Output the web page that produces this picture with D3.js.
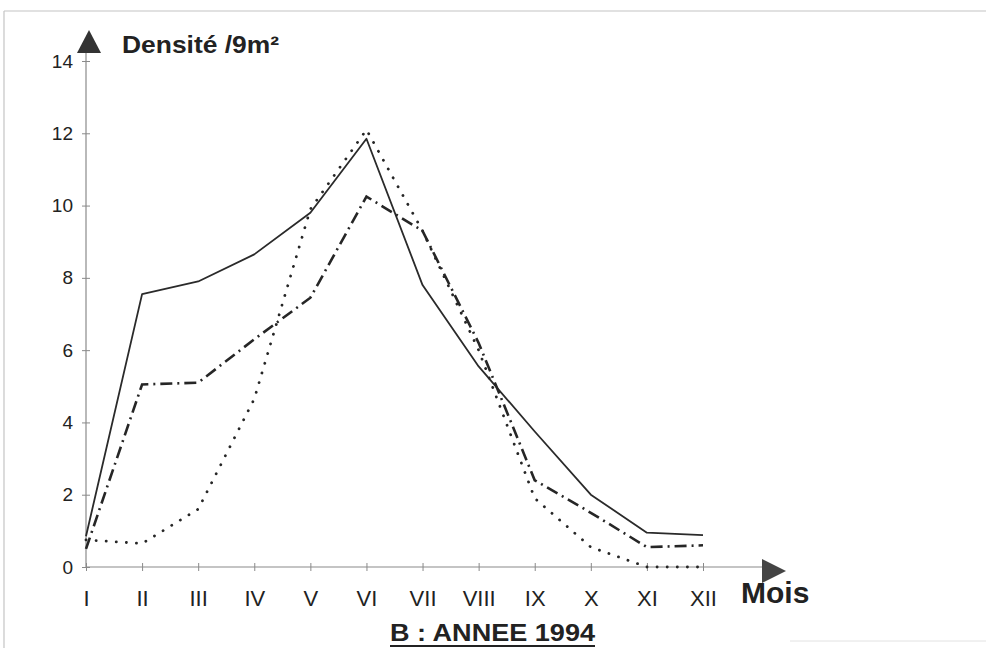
<!DOCTYPE html>
<html>
<head>
<meta charset="utf-8">
<script src="https://cdn.jsdelivr.net/npm/d3@7"></script>
<style>
  html, body { margin: 0; padding: 0; background: #fff; }
  svg { display: block; }
  text { font-family: "Liberation Sans", Arial, sans-serif; fill: #222; }
</style>
</head>
<body>
<svg id="chart" width="986" height="648"></svg>
<script>
// Months of the year (Roman numerals)
const months = ["I", "II", "III", "IV", "V", "VI", "VII", "VIII", "IX", "X", "XI", "XII"];

// Monthly density per 9 m², year 1994 — three sampled series
const serieSolid   = [0.85, 7.55, 7.9, 8.65, 9.8, 11.85, 7.8, 5.55, 3.75, 2.0, 0.95, 0.88];
const serieDashDot = [0.5, 5.05, 5.1, 6.3, 7.45, 10.25, 9.3, 6.2, 2.4, 1.5, 0.55, 0.6];
const serieDotted  = [0.75, 0.65, 1.6, 4.65, 9.9, 12.1, 9.3, 6.0, 1.9, 0.55, 0.0, 0.0];

const yTicks = [0, 2, 4, 6, 8, 10, 12, 14];

const yLabel = "Densité /9m²";
const xLabel = "Mois";
const title = "B : ANNEE 1994";

const svg = d3.select("#chart");

// Plot frame
const x = d3.scalePoint().domain(months).range([86, 703]);
const y = d3.scaleLinear().domain([0, 14]).range([567, 61]);

// Scanned page frame
svg.append("line").attr("x1", 4).attr("x2", 986).attr("y1", 11).attr("y2", 11)
  .attr("stroke", "#c4c4c4").attr("stroke-width", 1.2);
svg.append("line").attr("x1", 4).attr("x2", 4).attr("y1", 11).attr("y2", 648)
  .attr("stroke", "#c4c4c4").attr("stroke-width", 1.2);
svg.append("line").attr("x1", 790).attr("x2", 986).attr("y1", 641).attr("y2", 641)
  .attr("stroke", "#e2e2e2").attr("stroke-width", 1);

// Axis lines extended to the arrow heads
const axisColor = "#8a8a8a";
svg.append("line").attr("x1", x("I")).attr("x2", x("I"))
  .attr("y1", y(0)).attr("y2", 50)
  .attr("stroke", axisColor).attr("stroke-width", 1.2);
svg.append("line").attr("x1", x("I")).attr("x2", 764)
  .attr("y1", y(0)).attr("y2", y(0))
  .attr("stroke", axisColor).attr("stroke-width", 1.2);

// Arrow heads
svg.append("path").attr("d", "M77,53 L89,30 L101,53 Z").attr("fill", "#333");
svg.append("path").attr("d", "M762,559 L786,571 L762,583 Z").attr("fill", "#444");

// Y axis
const yAxis = d3.axisLeft(y).tickValues(yTicks).tickSize(4).tickPadding(9).tickFormat(d3.format("d"));
const gy = svg.append("g").attr("transform", `translate(${x("I")},0)`).call(yAxis);
gy.select(".domain").remove();
gy.selectAll(".tick line").attr("x1", -4).attr("x2", 4).attr("stroke", axisColor);
gy.selectAll(".tick text").style("font-size", "19px").attr("fill", "#222")
  .style("font-family", "'Liberation Sans', Arial, sans-serif");

// X axis
const xAxis = d3.axisBottom(x).tickSize(4).tickPadding(19);
const gx = svg.append("g").attr("transform", `translate(0,${y(0)})`).call(xAxis);
gx.select(".domain").remove();
gx.selectAll(".tick line").attr("y1", -4).attr("y2", 4).attr("stroke", axisColor);
gx.selectAll(".tick text").style("font-size", "22px").attr("fill", "#333")
  .style("font-family", "'Liberation Sans', Arial, sans-serif");

// Series lines
const line = d3.line()
  .x((d, i) => x(months[i]))
  .y(d => y(d));

svg.append("path").datum(serieSolid)
  .attr("d", line).attr("fill", "none")
  .attr("stroke", "#2a2a2a").attr("stroke-width", 1.8)
  .attr("stroke-linejoin", "round");

svg.append("path").datum(serieDashDot)
  .attr("d", line).attr("fill", "none")
  .attr("stroke", "#262626").attr("stroke-width", 2.6)
  .attr("stroke-dasharray", "12,5,2,5");

svg.append("path").datum(serieDotted)
  .attr("d", line).attr("fill", "none")
  .attr("stroke", "#262626").attr("stroke-width", 2.8)
  .attr("stroke-linecap", "round")
  .attr("stroke-dasharray", "0.1,10");

// Axis titles
svg.append("text").attr("x", 122).attr("y", 53)
  .attr("textLength", 157).attr("lengthAdjust", "spacingAndGlyphs")
  .style("font-size", "24px").style("font-weight", "bold").text(yLabel);

svg.append("text").attr("x", 741).attr("y", 603)
  .style("font-size", "30px").style("font-weight", "bold").text(xLabel);

// Chart title, underlined
svg.append("text").attr("x", 390).attr("y", 641)
  .attr("textLength", 205).attr("lengthAdjust", "spacingAndGlyphs")
  .style("font-size", "23px").style("font-weight", "bold").text(title);
svg.append("line").attr("x1", 390).attr("x2", 595).attr("y1", 646).attr("y2", 646)
  .attr("stroke", "#222").attr("stroke-width", 2);
</script>
</body>
</html>
